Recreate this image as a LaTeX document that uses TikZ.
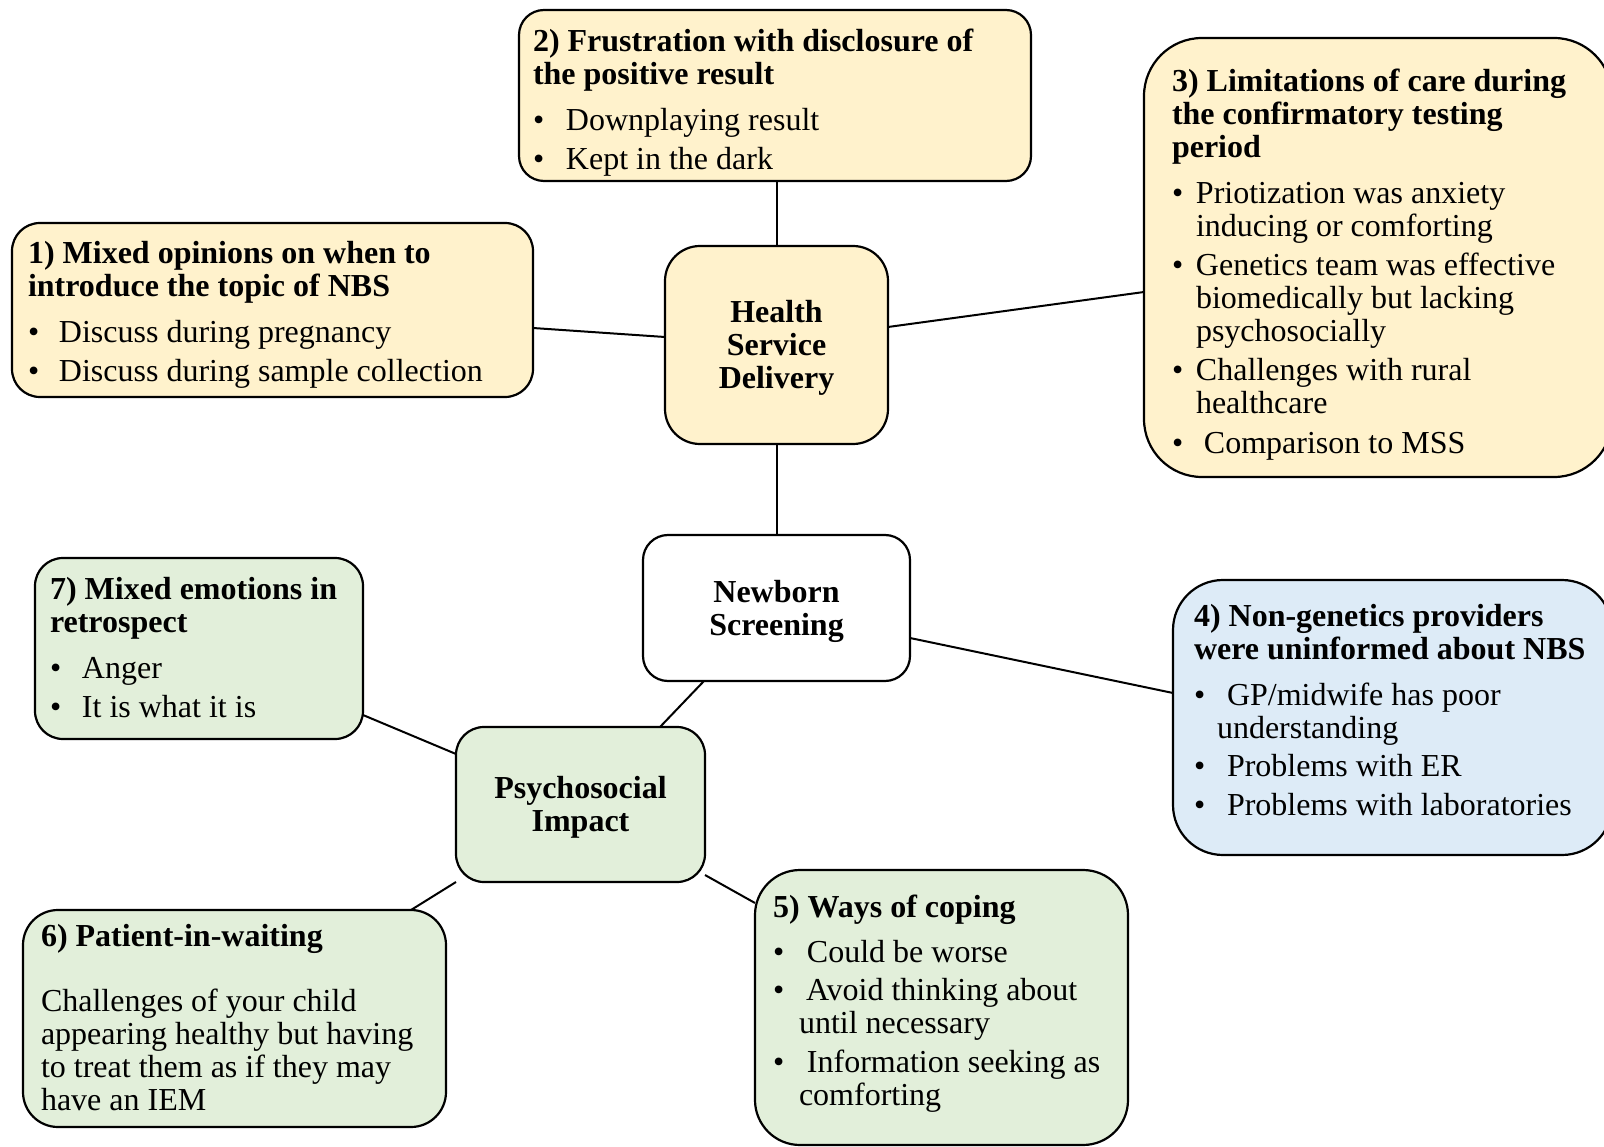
\documentclass[tikz,border=0pt]{standalone}
\usepackage{fontspec}
\setmainfont{Liberation Serif}
\usetikzlibrary{calc}
\definecolor{yel}{HTML}{FFF2CC}
\definecolor{grn}{HTML}{E2EFDA}
\definecolor{blu}{HTML}{DDEBF7}
\newcommand{\itm}[2]{\makebox[#1][l]{\textbullet}#2}
\newcommand{\cnt}[2]{\hspace*{#1}#2}
\newcommand{\boxtext}[1]{\parbox[t]{560pt}{\raggedright\fontsize{32pt}{33pt}\selectfont #1}}
\tikzset{
  box/.style={draw=black, line width=2.2pt, inner sep=0pt, outer sep=0pt, rectangle},
  txt/.style={inner sep=0pt, outer sep=0pt, anchor=base west},
  ctr/.style={align=center, inner sep=0pt, font=\fontsize{32pt}{33pt}\selectfont\bfseries},
  link/.style={draw=black, line width=2pt}
}
\begin{document}
\begin{tikzpicture}[x=1pt,y=-1pt]
\useasboundingbox (0,0) rectangle (1604,1147);
\clip (0,0) rectangle (1604,1147);
\fill[white] (0,0) rectangle (1604,1147);
% boxes
\node[box, fill=yel, rounded corners=28pt, minimum width=521pt, minimum height=174pt] (b1) at (272.5,310) {};
\node[box, fill=yel, rounded corners=25pt, minimum width=512pt, minimum height=171pt] (b2) at (775,95.5) {};
\node[box, fill=yel, rounded corners=58pt, minimum width=468pt, minimum height=439pt] (b3) at (1378,257.5) {};
\node[box, fill=yel, rounded corners=35pt, minimum width=223pt, minimum height=198pt] (hsd) at (776.5,345) {};
\node[box, fill=white, rounded corners=25pt, minimum width=267pt, minimum height=146pt] (ns) at (776.5,608) {};
\node[box, fill=blu, rounded corners=50pt, minimum width=439pt, minimum height=275pt] (b4) at (1392.5,717.5) {};
\node[box, fill=grn, rounded corners=28pt, minimum width=328pt, minimum height=181pt] (b7) at (199,648.5) {};
\node[box, fill=grn, rounded corners=28pt, minimum width=249pt, minimum height=155pt] (pi) at (580.5,804.5) {};
\node[box, fill=grn, rounded corners=35pt, minimum width=423pt, minimum height=217pt] (b6) at (234.5,1018.5) {};
\node[box, fill=grn, rounded corners=45pt, minimum width=373pt, minimum height=275pt] (b5) at (941.5,1007.5) {};
% centre labels
\node[ctr] (hsdl) at ([yshift=-3pt]hsd.center) {Health\\Service\\Delivery};
\node[ctr] (nsl) at ([yshift=-3pt]ns.center) {Newborn\\Screening};
\node[ctr] (pil) at ([yshift=-3pt]pi.center) {Psychosocial\\Impact};
% connectors
\draw[link] (b2.south -| hsd.north) -- (hsd.north);
\draw[link] ([yshift=-18pt]b1.east) -- ([yshift=8pt]hsd.west);
\draw[link] ([yshift=18pt]hsd.east) -- ([yshift=-34.5pt]b3.west);
\draw[link] (hsd.south) -- (ns.north);
\draw[link] ([yshift=-30pt]ns.east) -- ([yshift=24.5pt]b4.west);
\draw[link] ([xshift=61pt]ns.south west) -- ([xshift=-45pt]pi.north east);
\draw[link] ([yshift=-66.5pt]b7.east) -- ([yshift=50.5pt]pi.west);
\draw[link] (pi.south west) -- ([xshift=-35pt]b6.north east);
\draw[link] ([yshift=7pt]pi.south east) -- ([yshift=-33pt]b5.north west);
% texts
\node[txt] (t1) at (28,264) {\boxtext{\textbf{1) Mixed opinions on when to}\\
\textbf{introduce the topic of NBS}\\[13pt]
\itm{31pt}{Discuss during pregnancy}\\[6pt]
\itm{31pt}{Discuss during sample collection}}};
\node[txt] (t2) at (533,52) {\boxtext{\textbf{2) Frustration with disclosure of}\\
\textbf{the positive result}\\[13pt]
\itm{33pt}{Downplaying result}\\[6pt]
\itm{33pt}{Kept in the dark}}};
\node[txt] (t3) at (1172,92) {\boxtext{\textbf{3) Limitations of care during}\\
\textbf{the confirmatory testing}\\
\textbf{period}\\[13pt]
\itm{24pt}{Priotization was anxiety}\\
\cnt{24pt}{inducing or comforting}\\[6pt]
\itm{24pt}{Genetics team was effective}\\
\cnt{24pt}{biomedically but lacking}\\
\cnt{24pt}{psychosocially}\\[6pt]
\itm{24pt}{Challenges with rural}\\
\cnt{24pt}{healthcare}\\[7pt]
\itm{32pt}{Comparison to MSS}}};
\node[txt] (t4) at (1194,626) {\boxtext{\textbf{4) Non-genetics providers}\\
\textbf{were uninformed about NBS}\\[13pt]
\itm{33pt}{GP/midwife has poor}\\
\cnt{23pt}{understanding}\\[5pt]
\itm{33pt}{Problems with ER}\\[6pt]
\itm{33pt}{Problems with laboratories}}};
\node[txt] (t7) at (50,599) {\boxtext{\textbf{7) Mixed emotions in}\\
\textbf{retrospect}\\[13pt]
\itm{32pt}{Anger}\\[6pt]
\itm{32pt}{It is what it is}}};
\node[txt] (t6) at (41,946) {\boxtext{\textbf{6) Patient-in-waiting}\\[32pt]
Challenges of your child\\
appearing healthy but having\\
to treat them as if they may\\
have an IEM}};
\node[txt] (t5) at (773,917) {\boxtext{\textbf{5) Ways of coping}\\[12pt]
\itm{34pt}{Could be worse}\\[5pt]
\itm{33pt}{Avoid thinking about}\\
\cnt{26pt}{until necessary}\\[6pt]
\itm{34pt}{Information seeking as}\\
\cnt{26pt}{comforting}}};
\end{tikzpicture}
\end{document}
